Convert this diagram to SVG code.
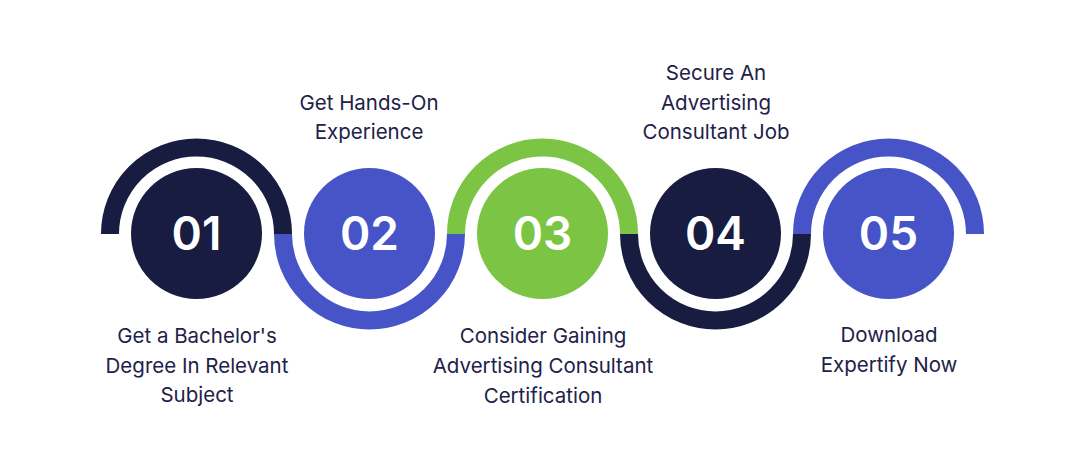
<svg xmlns="http://www.w3.org/2000/svg" width="1085" height="470" viewBox="0 0 1085 470">
<style>
.arc{fill:none;stroke-width:18;stroke-linecap:butt}
.navy{fill:#181c40}.blue{fill:#4654c8}.green{fill:#7bc444}
.snavy{stroke:#181c40}.sblue{stroke:#4654c8}.sgreen{stroke:#7bc444}
.num{font-family:Inter,"Liberation Sans",sans-serif;font-weight:600;font-size:46px;fill:#ffffff;text-anchor:middle}
.lbl{font-family:Inter,"Liberation Sans",sans-serif;font-size:20.5px;fill:#1e2148;text-anchor:middle}
</style>
<rect width="1085" height="470" fill="#ffffff"/>
<g id="connectors">
<path class="arc snavy" d="M110,234 A86.5,86.5 0 0 1 283,234"/>
<path class="arc sblue" d="M283,234 A86.5,86.5 0 0 0 456,234"/>
<path class="arc sgreen" d="M456,234 A86.5,86.5 0 0 1 629,234"/>
<path class="arc snavy" d="M629,234 A86.5,86.5 0 0 0 802,234"/>
<path class="arc sblue" d="M802,234 A86.5,86.5 0 0 1 975,234"/>
</g>
<g id="step1">
<circle class="navy" cx="196.5" cy="233.5" r="65.5"/>
<text class="num" x="196.5" y="250">01</text>
<text class="lbl" x="197" y="343">Get a Bachelor's</text>
<text class="lbl" x="197" y="373">Degree In Relevant</text>
<text class="lbl" x="197" y="402">Subject</text>
</g>
<g id="step2">
<circle class="blue" cx="369.5" cy="233.5" r="65.5"/>
<text class="num" x="369.5" y="250">02</text>
<text class="lbl" x="369" y="110">Get Hands-On</text>
<text class="lbl" x="369" y="139">Experience</text>
</g>
<g id="step3">
<circle class="green" cx="542.5" cy="233.5" r="65.5"/>
<text class="num" x="542.5" y="250">03</text>
<text class="lbl" x="543" y="343">Consider Gaining</text>
<text class="lbl" x="543" y="373">Advertising Consultant</text>
<text class="lbl" x="543" y="403">Certification</text>
</g>
<g id="step4">
<circle class="navy" cx="715.5" cy="233.5" r="65.5"/>
<text class="num" x="715.5" y="250">04</text>
<text class="lbl" x="716" y="80">Secure An</text>
<text class="lbl" x="716" y="110">Advertising</text>
<text class="lbl" x="716" y="139">Consultant Job</text>
</g>
<g id="step5">
<circle class="blue" cx="888.5" cy="233.5" r="65.5"/>
<text class="num" x="888.5" y="250">05</text>
<text class="lbl" x="889" y="342">Download</text>
<text class="lbl" x="889" y="372">Expertify Now</text>
</g>
</svg>
